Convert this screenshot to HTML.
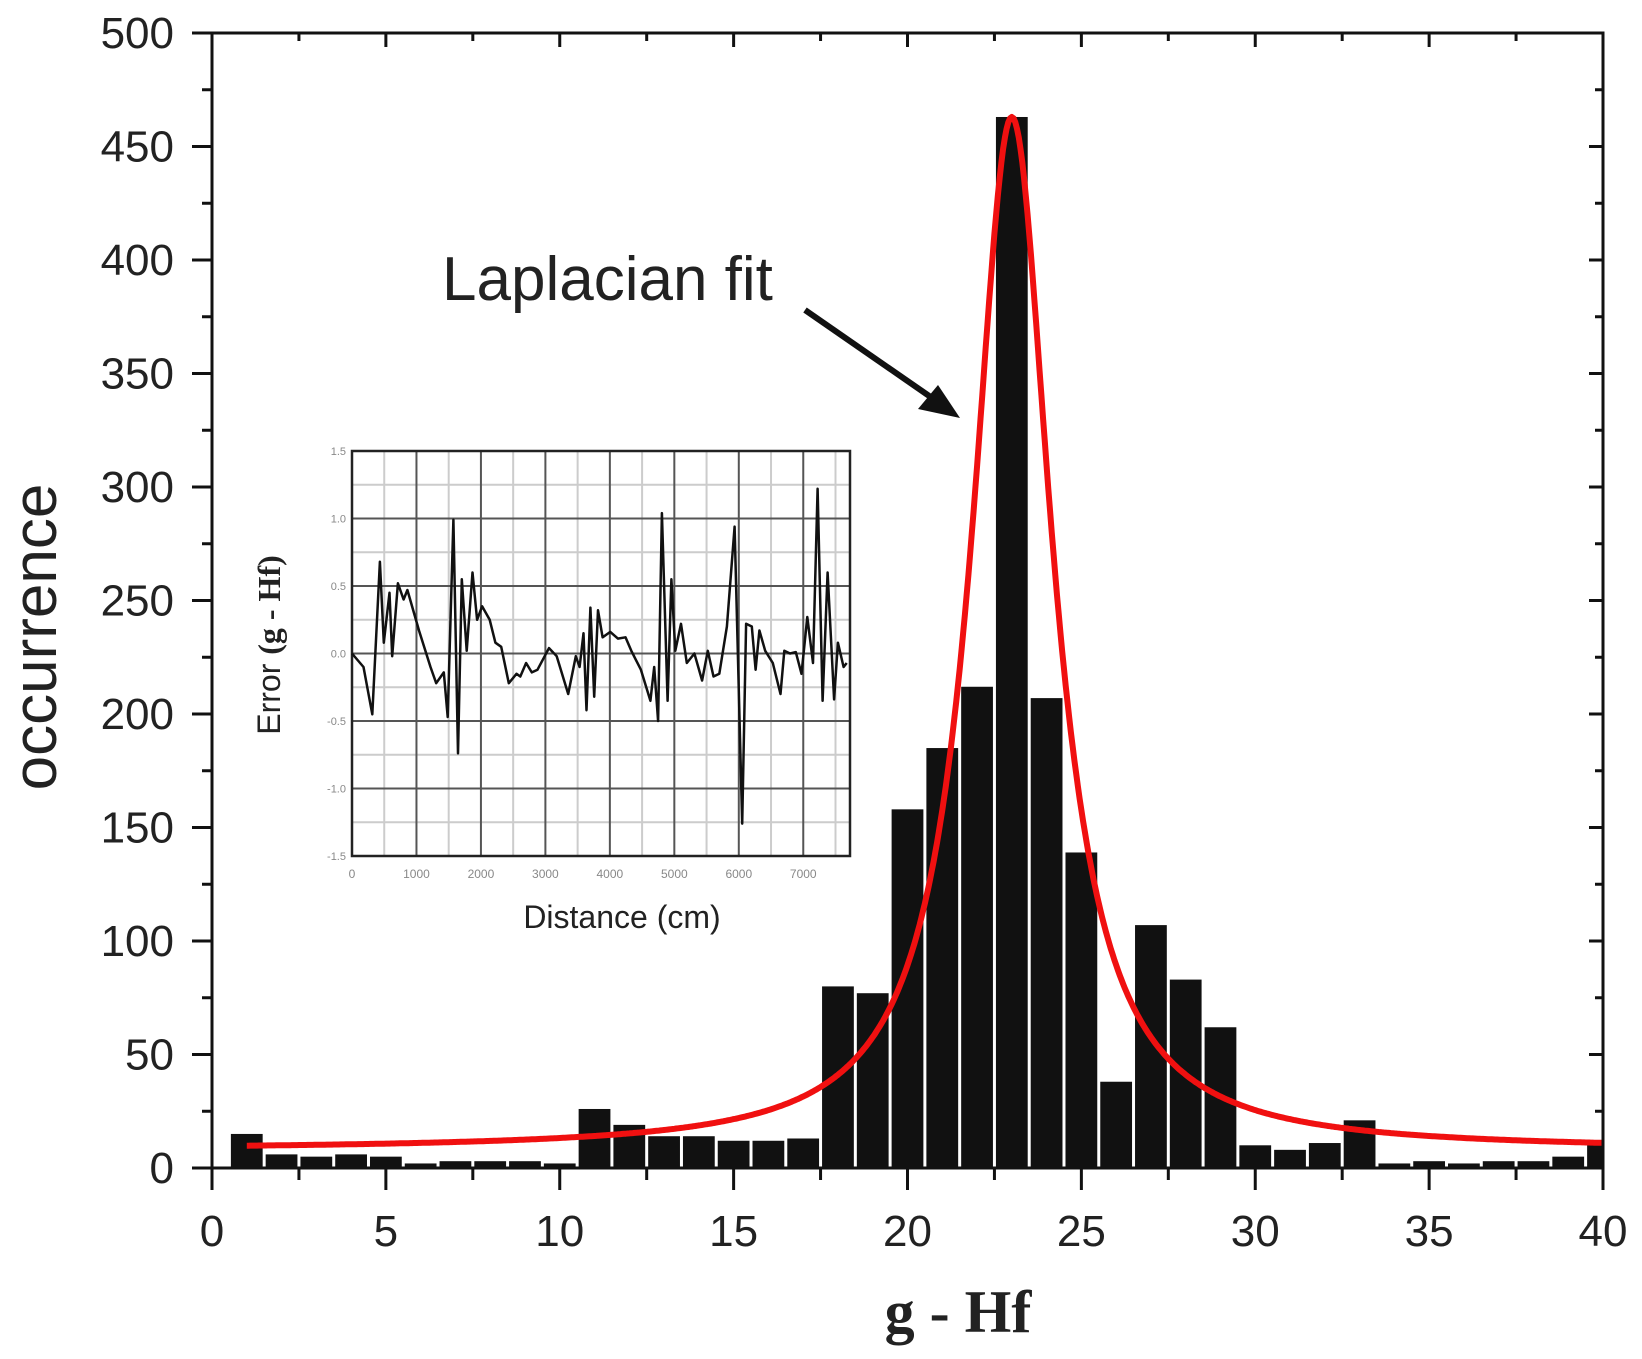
<!DOCTYPE html>
<html><head><meta charset="utf-8"><style>
html,body{margin:0;padding:0;background:#fff}
svg{display:block}
</style></head><body>
<svg id="chart" width="1642" height="1359" viewBox="0 0 1642 1359" xmlns="http://www.w3.org/2000/svg" font-family="'Liberation Sans', sans-serif">
<rect width="1642" height="1359" fill="#fff"/>
<g id="bars"></g>
<g id="fit"></g>
<g id="axes"></g>
<g id="inset"></g>
<text transform="translate(56,637) rotate(-90)" text-anchor="middle" font-size="62" fill="#222">occurrence</text>
<text x="958" y="1332" text-anchor="middle" font-size="60" font-weight="bold" font-family="'Liberation Serif', serif" fill="#222">g - Hf</text>
<text x="442" y="300" font-size="62" fill="#222">Laplacian fit</text>
<g>
<line x1="805" y1="310" x2="935" y2="400" stroke="#111" stroke-width="6"/>
<polygon points="960,418 918,409 938,385" fill="#111"/>
</g>
</svg>
<script>
const binCenters=[1,2,3,4,5,6,7,8,9,10,11,12,13,14,15,16,17,18,19,20,21,22,23,24,25,26,27,28,29,30,31,32,33,34,35,36,37,38,39,40];
const counts=[15,6,5,6,5,2,3,3,3,2,26,19,14,14,12,12,13,80,77,158,185,212,463,207,139,38,107,83,62,10,8,11,21,2,3,2,3,3,5,11];
const fitParams=[8,455,23,1.4]; // baseline, amplitude, center, width
const xTicks=[0,5,10,15,20,25,30,35,40];
const yTicks=[0,50,100,150,200,250,300,350,400,450,500];
const insetDist=[0,178,315,433,493,582,623,712,801,860,1039,1217,1306,1424,1484,1573,1644,1703,1780,1869,1941,2018,2136,2225,2314,2433,2552,2611,2700,2789,2878,3056,3175,3353,3472,3531,3591,3638,3698,3757,3816,3887,4006,4125,4243,4332,4481,4629,4688,4748,4807,4896,4955,5015,5104,5193,5312,5430,5519,5608,5697,5816,5935,6053,6113,6202,6261,6320,6409,6528,6647,6706,6795,6884,6973,7062,7151,7222,7300,7377,7478,7537,7626,7674];
const insetErr=[0,-0.1,-0.45,0.68,0.08,0.45,-0.02,0.52,0.4,0.47,0.17,-0.1,-0.22,-0.14,-0.47,0.99,-0.74,0.55,0.02,0.6,0.25,0.35,0.25,0.08,0.05,-0.22,-0.15,-0.17,-0.07,-0.14,-0.12,0.04,-0.02,-0.3,-0.02,-0.1,0.15,-0.42,0.34,-0.32,0.32,0.12,0.16,0.11,0.12,0.02,-0.12,-0.35,-0.1,-0.5,1.04,-0.35,0.55,0.02,0.22,-0.07,0,-0.2,0.02,-0.17,-0.15,0.2,0.94,-1.26,0.22,0.2,-0.12,0.17,0.02,-0.07,-0.3,0.02,0,0.01,-0.15,0.27,-0.07,1.22,-0.35,0.6,-0.34,0.08,-0.1,-0.07];
const insetXTicks=[0,1000,2000,3000,4000,5000,6000,7000];
const insetYTicks=[-1.5,-1.0,-0.5,0.0,0.5,1.0,1.5];

const NS='http://www.w3.org/2000/svg';
function mk(tag,attrs,parent,text){const e=document.createElementNS(NS,tag);for(const k in attrs)e.setAttribute(k,attrs[k]);if(text!==undefined)e.textContent=text;parent.appendChild(e);return e;}
const L=212,R=1603,T=33,B=1168;
const X=v=>L+(v-0)/(40-0)*(R-L);
const Y=v=>B-(v-0)/(500-0)*(B-T);

const bars=document.getElementById('bars');
binCenters.forEach((c,i)=>{
  let x0=X(c-0.5)+1.5,x1=Math.min(X(c+0.5)-1.5,R);
  const r=mk('rect',{x:x0,y:Y(counts[i]),width:Math.max(0,x1-x0),height:B-Y(counts[i]),fill:'#111'},bars);
  
  
});

const fit=document.getElementById('fit');
let d='';
for(let x=1;x<=40.001;x+=0.05){const y=fitParams[0]+fitParams[1]/(1+Math.pow((x-fitParams[2])/fitParams[3],2));d+=(d?'L':'M')+X(x).toFixed(1)+' '+Y(y).toFixed(1);}
const fp=mk('path',{d:d,fill:'none',stroke:'#f01010','stroke-width':6,'stroke-linejoin':'round'},fit);



const axes=document.getElementById('axes');
mk('rect',{x:L,y:T,width:R-L,height:B-T,fill:'none',stroke:'#111','stroke-width':3},axes);
for(let v=0;v<=40;v+=2.5){const maj=v%5===0;const x=X(v);
  mk('line',{x1:x,y1:B,x2:x,y2:B+(maj?22:12),stroke:'#111','stroke-width':3},axes);
  mk('line',{x1:x,y1:T,x2:x,y2:T+(maj?14:8),stroke:'#111','stroke-width':3},axes);}
for(let v=0;v<=500;v+=25){const maj=v%50===0;const y=Y(v);
  mk('line',{x1:L,y1:y,x2:L-(maj?20:10),y2:y,stroke:'#111','stroke-width':3},axes);
  mk('line',{x1:R,y1:y,x2:R-(maj?14:8),y2:y,stroke:'#111','stroke-width':3},axes);}
xTicks.forEach(v=>{const t=mk('text',{x:X(v),y:1246,'text-anchor':'middle','font-size':44,fill:'#222'},axes,String(v));
  
  });
yTicks.forEach(v=>{const t=mk('text',{x:174,y:Y(v)+15,'text-anchor':'end','font-size':44,fill:'#222'},axes,String(v));
  
  });

// inset
const inset=document.getElementById('inset');
const iL=352,iR=850,iT=451,iB=856,xMax=7725;
const IX=v=>iL+v/xMax*(iR-iL);
const IY=v=>iB-(v+1.5)/3*(iB-iT);
mk('rect',{x:iL-50,y:iT-10,width:iR-iL+60,height:iB-iT+90,fill:'#fff'},inset);
for(let v=500;v<xMax;v+=1000)mk('line',{x1:IX(v),y1:iT,x2:IX(v),y2:iB,stroke:'#ccc','stroke-width':2},inset);
for(let v=-1.25;v<1.5;v+=0.5)mk('line',{x1:iL,y1:IY(v),x2:iR,y2:IY(v),stroke:'#ccc','stroke-width':2},inset);
insetXTicks.forEach(v=>{mk('line',{x1:IX(v),y1:iT,x2:IX(v),y2:iB,stroke:'#555','stroke-width':2},inset);
  const t=mk('text',{x:IX(v),y:iB+22,'text-anchor':'middle','font-size':12,fill:'#888'},inset,String(v));
  
  });
insetYTicks.forEach(v=>{mk('line',{x1:iL,y1:IY(v),x2:iR,y2:IY(v),stroke:'#555','stroke-width':2},inset);
  const t=mk('text',{x:iL-6,y:IY(v)+4,'text-anchor':'end','font-size':11,fill:'#888'},inset,v.toFixed(1));
  
  });
mk('rect',{x:iL,y:iT,width:iR-iL,height:iB-iT,fill:'none',stroke:'#222','stroke-width':2.5},inset);
let pd='';insetDist.forEach((v,i)=>{pd+=(i?'L':'M')+IX(v).toFixed(1)+' '+IY(insetErr[i]).toFixed(1);});
const il=mk('path',{d:pd,fill:'none',stroke:'#111','stroke-width':2.5,'stroke-linejoin':'round'},inset);


const ixt=mk('text',{x:622,y:928,'text-anchor':'middle','font-size':32,fill:'#222'},inset,'Distance (cm)');


const iyt=mk('text',{transform:'translate(280,645) rotate(-90)','text-anchor':'middle','font-size':32,fill:'#222'},inset);


mk('tspan',{},iyt,'Error ');
mk('tspan',{'font-family':"'Liberation Serif', serif",'font-weight':'bold'},iyt,'(g - Hf)');
</script>
</body></html>
